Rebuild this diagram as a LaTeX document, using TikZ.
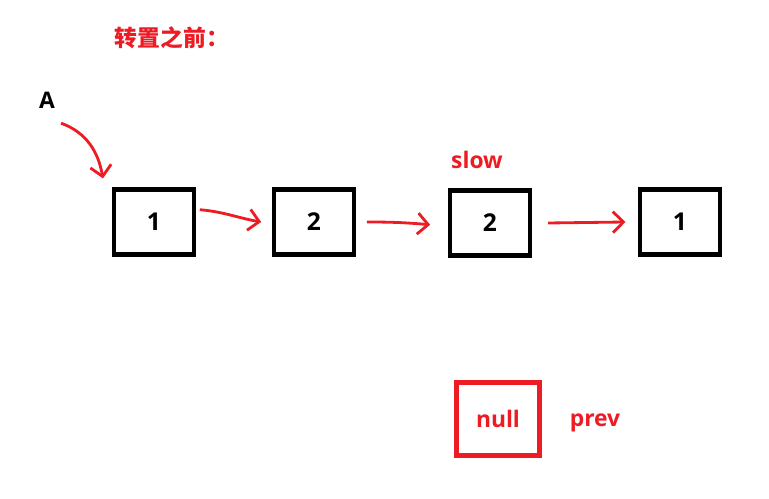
\documentclass[tikz,border=0pt]{standalone}
\usepackage{fontspec}
\setmainfont{Open Sans}
\newfontfamily\cjk{Noto Sans CJK SC}
\usetikzlibrary{arrows.meta,positioning}
\definecolor{paintred}{RGB}{237,28,36}
\tikzset{
  cell/.style={draw,line width=2.6pt,minimum width=1.6cm,minimum height=1.3cm,
    font=\fontsize{14}{16}\selectfont\bfseries},
  nullcell/.style={cell,draw=paintred,text=paintred,minimum width=1.65cm,minimum height=1.45cm,
    font=\fontsize{13}{15}\selectfont\bfseries},
  tag/.style={text=paintred,font=\fontsize{13}{15}\selectfont\bfseries},
  link/.style={paintred,line width=1.6pt,-{Straight Barb[length=6pt,width=12pt,line width=1.6pt]}}
}
\begin{document}
\begin{tikzpicture}[x=0.02cm,y=-0.02cm]
\useasboundingbox (0,0) rectangle (769,499);

\node[tag,font=\cjk\fontsize{13}{15}\selectfont\bfseries] (title) at (172,38) {转置之前：};
\node[font=\fontsize{13}{15}\selectfont\bfseries] (a) at (47,100) {A};

\node[cell] (b1) at (154,222) {1};
\node[cell] (b2) at (314,222) {2};
\node[cell] (b3) at (490,223) {2};
\node[cell] (b4) at (680,222) {1};
\node[tag] (slow) at (477,160) {slow};

\node[nullcell] (nil) at (498,419) {null};
\node[tag] (prev) at (595,423) {prev};

\draw[link] ([xshift=8pt,yshift=-5pt]a.south) to[out=-20,in=100] ([xshift=-5pt,yshift=5pt]b1.north west);
\draw[link] ([xshift=2pt,yshift=7pt]b1.east) to[out=-5,in=170] ([xshift=-6pt]b2.west);
\draw[link] ([xshift=6pt]b2.east) to[out=0,in=175] ([xshift=-10pt,yshift=-1pt]b3.west);
\draw[link] ([xshift=9pt]b3.east) -- ([xshift=-7pt]b4.west);
\end{tikzpicture}
\end{document}
